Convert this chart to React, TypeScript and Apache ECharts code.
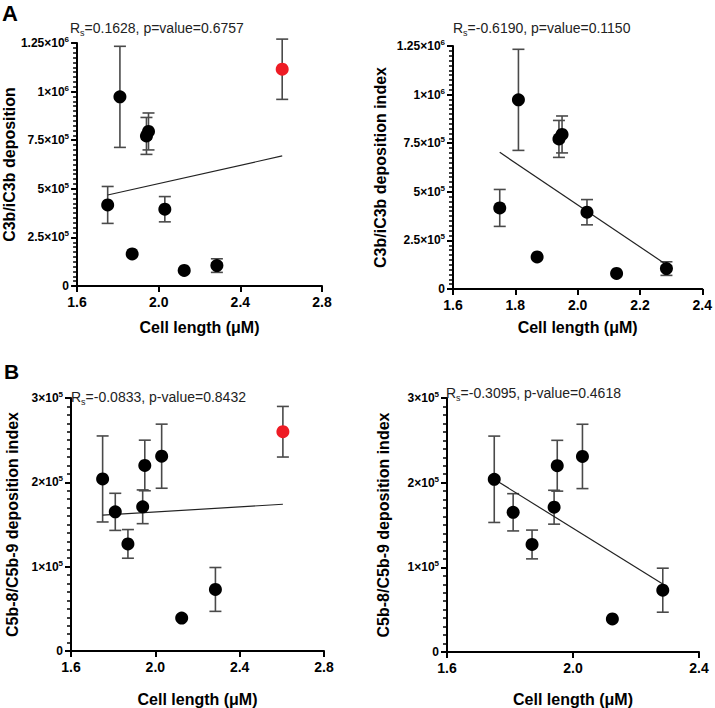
import React, { useEffect, useRef } from "react";
import * as echarts from "echarts";

// ---------- data ----------
const cellLength = [1.75, 1.81, 1.87, 1.94, 1.95, 2.03, 2.125, 2.285];
const outlierLength = [2.605];

const c3bValues = [4.17e5, 9.73e5, 1.65e5, 7.72e5, 7.95e5, 3.95e5, 8.0e4, 1.05e5];
const c3bErrors = [9.5e4, 2.6e5, 0, 9.5e4, 9.5e4, 6.5e4, 0, 3.5e4];
const c3bOutlier = [1.115e6];
const c3bOutlierError = [1.55e5];

const c5bValues = [2.04e5, 1.65e5, 1.27e5, 1.71e5, 2.2e5, 2.31e5, 3.9e4, 7.3e4];
const c5bErrors = [5.1e4, 2.2e4, 1.7e4, 2.0e4, 3.0e4, 3.8e4, 0, 2.6e4];
const c5bOutlier = [2.6e5];
const c5bOutlierError = [3.0e4];

// regression line end points (x, y)
const fitA1X = [1.75, 2.605];
const fitA1Y = [4.68e5, 6.69e5];
const fitA2X = [1.75, 2.285];
const fitA2Y = [7.03e5, 1.25e5];
const fitB1X = [1.75, 2.605];
const fitB1Y = [1.61e5, 1.74e5];
const fitB2X = [1.75, 2.29];
const fitB2Y = [2.04e5, 7.9e4];

const statsTexts = [
  "R{s|s}=0.1628, p=value=0.6757",
  "R{s|s}=-0.6190, p=value=0.1150",
  "R{s|s}=-0.0833, p-value=0.8432",
  "R{s|s}=-0.3095, p-value=0.4618",
];
const yTitles = [
  "C3b/iC3b deposition",
  "C3b/iC3b deposition index",
  "C5b-8/C5b-9 deposition index",
  "C5b-8/C5b-9 deposition index",
];
const xTitle = "Cell length (\u03bcM)";
const panelLetters = ["A", "B"];

const FONT = "'Liberation Sans', Arial, Helvetica, sans-serif";

function sciLabel(v: number): string {
  if (v === 0) return "0";
  const exp = Math.floor(Math.log10(v) + 1e-9);
  const mant = parseFloat((v / Math.pow(10, exp)).toFixed(3));
  return `${mant}\u00d710{sup|${exp}}`;
}

function errorRender(params: any, api: any) {
  const x = api.value(0);
  const lo = api.value(1);
  const hi = api.value(2);
  const p1 = api.coord([x, hi]);
  const p2 = api.coord([x, lo]);
  const w = 6;
  const style = { stroke: "#4a4a4a", lineWidth: 1.6 };
  return {
    type: "group",
    children: [
      { type: "line", shape: { x1: p1[0], y1: p1[1], x2: p2[0], y2: p2[1] }, style },
      { type: "line", shape: { x1: p1[0] - w, y1: p1[1], x2: p1[0] + w, y2: p1[1] }, style },
      { type: "line", shape: { x1: p2[0] - w, y1: p2[1], x2: p2[0] + w, y2: p2[1] }, style },
    ],
  };
}

function panelSeries(
  idx: number,
  xs: number[],
  ys: number[],
  errs: number[],
  fitX: number[],
  fitY: number[],
  outX?: number[],
  outY?: number[],
  outErr?: number[]
) {
  const errData: number[][] = [];
  xs.forEach((x, i) => {
    if (errs[i] > 0) errData.push([x, ys[i] - errs[i], ys[i] + errs[i]]);
  });
  if (outX && outY && outErr) {
    outX.forEach((x, i) => errData.push([x, outY[i] - outErr[i], outY[i] + outErr[i]]));
  }
  const series: any[] = [
    {
      type: "custom",
      xAxisIndex: idx,
      yAxisIndex: idx,
      renderItem: errorRender,
      encode: { x: 0, y: [1, 2] },
      data: errData,
      z: 2,
      silent: true,
    },
    {
      type: "line",
      xAxisIndex: idx,
      yAxisIndex: idx,
      data: fitX.map((x, i) => [x, fitY[i]]),
      symbol: "none",
      lineStyle: { color: "#222", width: 1.2 },
      z: 3,
      silent: true,
    },
    {
      type: "scatter",
      xAxisIndex: idx,
      yAxisIndex: idx,
      data: xs.map((x, i) => [x, ys[i]]),
      symbolSize: 13,
      itemStyle: { color: "#000", opacity: 1 },
      z: 4,
    },
  ];
  if (outX && outY) {
    series.push({
      type: "scatter",
      xAxisIndex: idx,
      yAxisIndex: idx,
      data: outX.map((x, i) => [x, outY[i]]),
      symbolSize: 13,
      itemStyle: { color: "#ee1c25", opacity: 1 },
      z: 4,
    });
  }
  return series;
}

function xAxisCfg(idx: number, max: number, interval: number, nameGap: number) {
  return {
    gridIndex: idx,
    type: "value",
    min: 1.6,
    max,
    interval,
    axisLine: { onZero: false, lineStyle: { color: "#000", width: 2 } },
    axisTick: { length: 6, lineStyle: { color: "#000", width: 2 } },
    splitLine: { show: false },
    axisLabel: {
      formatter: (v: number) => v.toFixed(1),
      fontFamily: FONT,
      fontWeight: "bold",
      fontSize: 14,
      color: "#000",
      margin: 9,
    },
    name: xTitle,
    nameLocation: "middle",
    nameGap,
    nameTextStyle: { fontFamily: FONT, fontWeight: "bold", fontSize: 16, color: "#000" },
  };
}

function yAxisCfg(idx: number, max: number, interval: number, name: string, nameGap: number) {
  return {
    gridIndex: idx,
    type: "value",
    min: 0,
    max,
    interval,
    axisLine: { show: true, lineStyle: { color: "#000", width: 2 } },
    axisTick: { show: true, length: 6, lineStyle: { color: "#000", width: 2 } },
    minorTick: { show: true, splitNumber: 10, length: 4, lineStyle: { color: "#000", width: 1.5 } },
    splitLine: { show: false },
    axisLabel: {
      formatter: sciLabel,
      fontFamily: FONT,
      fontWeight: "bold",
      fontSize: 12,
      lineHeight: 15,
      color: "#000",
      margin: 8,
      rich: {
        sup: { fontFamily: FONT, fontWeight: "bold", fontSize: 8, lineHeight: 8, verticalAlign: "top", color: "#000" },
      },
    },
    name,
    nameLocation: "middle",
    nameGap,
    nameTextStyle: { fontFamily: FONT, fontWeight: "bold", fontSize: 16, color: "#000" },
  };
}

function statTitle(text: string, left: number, top: number) {
  return {
    text,
    left,
    top,
    padding: 0,
    textStyle: {
      fontFamily: FONT,
      fontWeight: "normal",
      fontSize: 14,
      lineHeight: 18,
      color: "#222",
      rich: {
        s: { fontFamily: FONT, fontSize: 9, lineHeight: 13, verticalAlign: "bottom", color: "#222" },
      },
    },
  };
}

export default function App() {
  const ref = useRef<HTMLDivElement>(null);
  useEffect(() => {
    if (!ref.current) return;
    const chart = echarts.init(ref.current, null, { renderer: "svg" });
    const option: any = {
      animation: false,
      backgroundColor: "#fff",
      title: [
        {
          text: panelLetters[0],
          left: 2,
          top: 2,
          padding: 0,
          textStyle: { fontFamily: FONT, fontWeight: "bold", fontSize: 22, color: "#000" },
        },
        {
          text: panelLetters[1],
          left: 4,
          top: 361,
          padding: 0,
          textStyle: { fontFamily: FONT, fontWeight: "bold", fontSize: 21, color: "#000" },
        },
        statTitle(statsTexts[0], 70, 19),
        statTitle(statsTexts[1], 453, 19),
        statTitle(statsTexts[2], 71, 388),
        statTitle(statsTexts[3], 446, 384),
      ],
      grid: [
        { left: 70, top: 43, width: 252, height: 243 },
        { left: 453, top: 46, width: 255, height: 243 },
        { left: 71, top: 398, width: 253, height: 253 },
        { left: 447, top: 398, width: 252, height: 254 },
      ],
      xAxis: [
        xAxisCfg(0, 2.8, 0.4, 33),
        xAxisCfg(1, 2.4, 0.2, 30),
        xAxisCfg(2, 2.8, 0.4, 40),
        xAxisCfg(3, 2.4, 0.4, 39),
      ],
      yAxis: [
        yAxisCfg(0, 1.25e6, 2.5e5, yTitles[0], 50),
        yAxisCfg(1, 1.25e6, 2.5e5, yTitles[1], 65),
        yAxisCfg(2, 3e5, 1e5, yTitles[2], 51),
        yAxisCfg(3, 3e5, 1e5, yTitles[3], 56),
      ],
      series: [
        ...panelSeries(0, cellLength, c3bValues, c3bErrors, fitA1X, fitA1Y, outlierLength, c3bOutlier, c3bOutlierError),
        ...panelSeries(1, cellLength, c3bValues, c3bErrors, fitA2X, fitA2Y),
        ...panelSeries(2, cellLength, c5bValues, c5bErrors, fitB1X, fitB1Y, outlierLength, c5bOutlier, c5bOutlierError),
        ...panelSeries(3, cellLength, c5bValues, c5bErrors, fitB2X, fitB2Y),
      ],
    };
    chart.setOption(option);
    return () => chart.dispose();
  }, []);
  return (
    <div
      ref={ref}
      style={{ position: "fixed", left: 0, top: 0, width: 715, height: 708, background: "#fff" }}
    />
  );
}
